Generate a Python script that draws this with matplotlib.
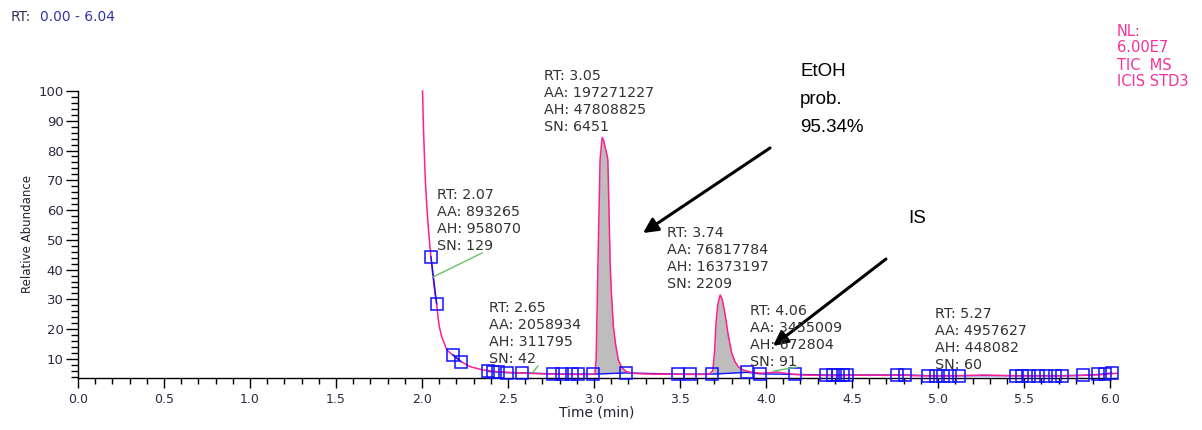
import matplotlib
matplotlib.use("Agg")
import matplotlib.pyplot as plt
import numpy as np
from matplotlib.ticker import MultipleLocator
from matplotlib.lines import Line2D

plt.rcParams['font.family'] = ['DejaVu Sans']

# ---------------- data ----------------
time_min = [2.003, 2.008, 2.014, 2.020, 2.027, 2.034, 2.041, 2.052, 2.065, 2.075,
            2.085, 2.093, 2.100, 2.114, 2.144, 2.180, 2.227, 2.280, 2.355, 2.420,
            2.500, 2.600, 2.700, 2.800, 2.900, 2.970, 3.000, 3.005, 3.012, 3.023,
            3.035, 3.047, 3.055, 3.065, 3.075, 3.080, 3.087, 3.093, 3.100, 3.112,
            3.125, 3.141, 3.160, 3.186, 3.220, 3.280, 3.350, 3.450, 3.550, 3.620,
            3.670, 3.690, 3.700, 3.710, 3.720, 3.733, 3.745, 3.757, 3.767, 3.780,
            3.800, 3.820, 3.840, 3.870, 3.920, 3.970, 4.020, 4.060, 4.100, 4.150,
            4.220, 4.300, 4.400, 4.500, 4.600, 4.700, 4.780, 4.850, 4.950, 5.050,
            5.150, 5.270, 5.400, 5.500, 5.600, 5.700, 5.800, 5.900, 5.970, 6.040]
rel_abundance = [100.0, 88.0, 78.0, 69.0, 62.0, 56.0, 51.0, 44.0, 37.0, 32.0,
                 28.5, 24.0, 21.0, 17.5, 13.0, 11.2, 9.1, 7.4, 6.3, 5.8,
                 5.5, 5.2, 5.0, 4.9, 4.8, 4.8, 4.9, 5.0, 9.7, 43.0,
                 77.0, 84.4, 83.5, 81.0, 78.5, 77.0, 60.0, 43.0, 33.0, 21.0,
                 15.0, 9.7, 7.2, 5.8, 5.2, 5.0, 4.9, 4.9, 4.8, 4.8,
                 4.9, 6.0, 12.0, 23.0, 28.5, 31.5, 30.0, 26.5, 23.0, 18.0,
                 12.0, 9.0, 7.3, 6.2, 5.5, 5.2, 5.4, 5.6, 5.3, 4.9,
                 4.6, 4.5, 4.4, 4.5, 4.6, 4.5, 4.6, 4.4, 4.3, 4.3,
                 4.4, 4.6, 4.4, 4.3, 4.3, 4.3, 4.4, 4.6, 4.8, 5.2]

# peak boundary markers (blue squares)
marker_t = [2.052, 2.085, 2.180, 2.227, 2.386, 2.415, 2.444, 2.492, 2.579, 2.764,
            2.812, 2.870, 2.909, 2.996, 3.186, 3.488, 3.558, 3.686, 3.890, 3.965,
            4.170, 4.350, 4.390, 4.420, 4.450, 4.470, 4.760, 4.810, 4.940, 4.990,
            5.030, 5.070, 5.120, 5.450, 5.490, 5.530, 5.580, 5.630, 5.680, 5.720,
            5.840, 5.930, 5.970, 6.010]
marker_y = [44.3, 28.5, 11.4, 9.1, 5.8, 5.7, 5.6, 5.4, 5.3, 5.0,
            4.9, 4.9, 4.9, 4.9, 5.3, 4.9, 4.9, 4.9, 5.5, 5.0,
            4.8, 4.6, 4.6, 4.6, 4.6, 4.6, 4.6, 4.6, 4.4, 4.4,
            4.4, 4.4, 4.4, 4.4, 4.4, 4.4, 4.4, 4.4, 4.4, 4.4,
            4.5, 4.8, 5.0, 5.3]

# integrated peaks (start, end) for grey fill
filled_peaks = [(2.996, 3.186), (3.686, 3.890)]

peak_labels = [
    ["RT: 2.07", "AA: 893265", "AH: 958070", "SN: 129"],
    ["RT: 2.65", "AA: 2058934", "AH: 311795", "SN: 42"],
    ["RT: 3.05", "AA: 197271227", "AH: 47808825", "SN: 6451"],
    ["RT: 3.74", "AA: 76817784", "AH: 16373197", "SN: 2209"],
    ["RT: 4.06", "AA: 3455009", "AH: 672804", "SN: 91"],
    ["RT: 5.27", "AA: 4957627", "AH: 448082", "SN: 60"],
]
label_pos_px = [(437, 195), (489, 308), (544, 76), (667, 233), (750, 311), (935, 314)]

info_lines = ["NL:", "6.00E7", "TIC  MS", "ICIS STD3"]
etoh_lines = ["EtOH", "prob.", "95.34%"]

# ---------------- figure ----------------
W, H = 1202, 430
fig = plt.figure(figsize=(W / 100, H / 100), dpi=100)
ax = fig.add_axes([78 / W, 1 - 378 / H, (1117 - 78) / W, (378 - 91) / H])

pink = '#ff1f8e'
blue = '#1010ff'

t = np.array(time_min)
y = np.array(rel_abundance)
mt = np.array(marker_t)
my = np.array(marker_y)

# grey fills
for (a, b) in filled_peaks:
    ya = np.interp(a, mt, my)
    yb = np.interp(b, mt, my)
    tt = np.linspace(a, b, 200)
    yy = np.interp(tt, t, y)
    base = ya + (yb - ya) * (tt - a) / (b - a)
    ax.fill_between(tt, base, yy, color='#bdbdbd', lw=0, zorder=1)

ax.plot(t, y, color=pink, lw=1.1, zorder=3, clip_on=False)

# blue baselines
ax.plot(mt[0:2], my[0:2], color=blue, lw=1.0, zorder=4)
ax.plot(mt[2:4], my[2:4], color=blue, lw=1.0, zorder=4)
ax.plot(mt[4:], my[4:], color=blue, lw=1.0, zorder=2, clip_on=False)
ax.plot(mt, my, ls='none', marker='s', ms=9, mfc='none', mec=blue, mew=1.1,
        zorder=5, clip_on=False)

ax.set_xlim(0, 6.04)
ax.set_ylim(3.6, 100)
ax.xaxis.set_major_locator(MultipleLocator(0.5))
ax.xaxis.set_minor_locator(MultipleLocator(0.1))
ax.set_yticks(np.arange(10, 101, 10))
ax.yaxis.set_minor_locator(MultipleLocator(2))
ax.xaxis.set_major_formatter(matplotlib.ticker.FormatStrFormatter('%.1f'))

for s in ['top', 'right']:
    ax.spines[s].set_visible(False)
for s in ['left', 'bottom']:
    ax.spines[s].set_linewidth(1.0)

tick_col = '#2a2a44'
ax.tick_params(axis='x', which='major', direction='out', length=7, width=1, pad=4,
               labelsize=9, labelcolor=tick_col)
ax.tick_params(axis='x', which='minor', direction='out', length=4.5, width=1)
ax.tick_params(axis='y', which='major', direction='out', length=9, width=1, pad=1.5,
               labelsize=9.5, labelcolor=tick_col)
ax.tick_params(axis='y', which='minor', direction='out', length=5, width=1)

fig.text(597 / W, 1 - 413 / H, "Time (min)", ha='center', va='center',
         fontsize=10, color='#222233')
fig.text(28 / W, 1 - 234 / H, "Relative Abundance", ha='center', va='center',
         rotation=90, fontsize=8.5, color='#222233')

# header
fig.text(11 / W, 1 - 17 / H, "RT:", ha='left', va='center', fontsize=10, color='#333355')
fig.text(40 / W, 1 - 17 / H, "0.00 - 6.04", ha='left', va='center', fontsize=10,
         color='#3535a5')
info_y = [31, 47, 66, 82]
for txt, yy_ in zip(info_lines, info_y):
    fig.text(1117 / W, 1 - yy_ / H, txt, ha='left', va='center', fontsize=10.5,
             color='#f2339a')

# peak labels
for lines, (px, py) in zip(peak_labels, label_pos_px):
    for i, line in enumerate(lines):
        fig.text(px / W, 1 - (py + 17 * i) / H, line, ha='left', va='center',
                 fontsize=10.3, color='#333333')

# green leader lines
leaders = [((482, 253), (433, 277)), ((538, 366), (533, 372)), ((774, 371), (797, 367))]
for (x0, y0), (x1, y1) in leaders:
    fig.add_artist(Line2D([x0 / W, x1 / W], [1 - y0 / H, 1 - y1 / H],
                          color='#66c466', lw=1.0, transform=fig.transFigure))

# annotations (EtOH / IS)
for i, txt in enumerate(etoh_lines):
    fig.text(800 / W, 1 - (72 + 28 * i) / H, txt, ha='left', va='center',
             fontsize=13.5, color='black', family='Liberation Sans')
fig.text(908 / W, 1 - 218 / H, "IS", ha='left', va='center', fontsize=13.5,
         color='black', family='Liberation Sans')
arrowprops = dict(arrowstyle='-|>', lw=2.2, color='black', mutation_scale=22,
                  shrinkA=0, shrinkB=0)
ax.annotate("", xy=(643 / W, 1 - 233 / H), xytext=(770 / W, 1 - 148 / H),
            xycoords='figure fraction', textcoords='figure fraction',
            arrowprops=arrowprops)
ax.annotate("", xy=(773 / W, 1 - 346 / H), xytext=(886 / W, 1 - 259 / H),
            xycoords='figure fraction', textcoords='figure fraction',
            arrowprops=arrowprops)

fig.savefig("out.png", dpi=100)
